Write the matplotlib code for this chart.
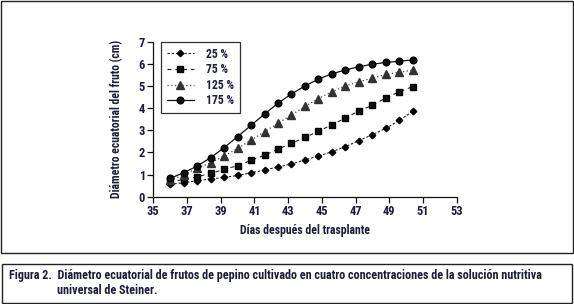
import matplotlib
matplotlib.use("Agg")
import matplotlib.pyplot as plt
from matplotlib import font_manager
from matplotlib.patches import Rectangle

# ---- data ----
dias = [36.0, 36.8, 37.6, 38.4, 39.2, 40.0, 40.8, 41.6, 42.4, 43.2,
        44.0, 44.8, 45.6, 46.4, 47.2, 48.0, 48.8, 49.6, 50.4]
c25 = [0.56, 0.63, 0.72, 0.80, 0.87, 0.96, 1.08, 1.20, 1.34, 1.48,
       1.66, 1.84, 2.03, 2.26, 2.53, 2.80, 3.09, 3.45, 3.85]
c75 = [0.65, 0.78, 0.90, 1.05, 1.23, 1.40, 1.64, 1.87, 2.15, 2.41,
       2.68, 2.95, 3.25, 3.55, 3.88, 4.12, 4.46, 4.74, 4.97]
c125 = [0.75, 0.98, 1.28, 1.53, 1.84, 2.18, 2.55, 2.93, 3.31, 3.69,
        4.08, 4.43, 4.74, 5.00, 5.19, 5.35, 5.52, 5.62, 5.72]
c175 = [0.83, 1.08, 1.38, 1.76, 2.21, 2.71, 3.22, 3.73, 4.22, 4.64,
        5.00, 5.31, 5.55, 5.72, 5.87, 5.98, 6.06, 6.12, 6.17]
labels = ["25 %", "75 %", "125 %", "175 %"]
xticks = [35, 37, 39, 41, 43, 45, 47, 49, 51, 53]
yticks = [0, 1, 2, 3, 4, 5, 6, 7]
xlabel = "Días después del trasplante"
ylabel = "Diámetro ecuatorial del fruto (cm)"
caption1 = "Figura 2.  Diámetro ecuatorial de frutos de pepino cultivado en cuatro concentraciones de la solución nutritiva"
caption2 = "universal de Steiner."

# ---- font: a condensed family that has a bold face ----
bold_fams = {}
for f in font_manager.fontManager.ttflist:
    w = f.weight if isinstance(f.weight, int) else (700 if f.weight == "bold" else 400)
    if f.style == "normal" and w >= 700:
        bold_fams.setdefault(f.name, []).append(w)
fam = "DejaVu Sans"
for cand in ["Roboto Condensed", "Archivo Narrow", "Barlow Semi Condensed",
             "Fira Sans Condensed", "PT Sans Narrow", "Asap Condensed",
             "Encode Sans Condensed", "Barlow Condensed"]:
    if cand in bold_fams:
        fam = cand
        break
plt.rcParams["font.family"] = [fam, "DejaVu Sans"]
txt = "#1c1c3c"

fig = plt.figure(figsize=(5.74, 3.04), dpi=100)
ax = fig.add_axes([0.267, 0.353, 0.5286, 0.510])

ax.plot(dias, c25, linestyle=(0, (2.2, 1.6)), color="#222222", lw=0.8,
        marker="D", ms=3.3, mfc="black", mec="black", label=labels[0])
ax.plot(dias, c75, linestyle=(0, (3.5, 3.5)), color="#222222", lw=0.8,
        marker="s", ms=4.7, mfc="#111111", mec="black", label=labels[1])
ax.plot(dias, c125, linestyle=(0, (1, 2)), color="#444444", lw=0.9,
        marker="^", ms=5.8, mfc="#333333", mec="#333333", label=labels[2])
ax.plot(dias, c175, linestyle="-", color="#111111", lw=0.9,
        marker="o", ms=4.8, mfc="#111111", mec="black", label=labels[3])

ax.set_xlim(35, 53)
ax.set_ylim(0, 7)
ax.set_xticks(xticks)
ax.set_yticks(yticks)
for s in ["top", "right"]:
    ax.spines[s].set_visible(False)
for s in ["left", "bottom"]:
    ax.spines[s].set_linewidth(0.9)
    ax.spines[s].set_color("#111111")
ax.tick_params(direction="out", length=4, width=0.9, color="#111111",
               labelsize=9, labelcolor=txt, pad=2)
for lab in ax.get_xticklabels() + ax.get_yticklabels():
    lab.set_fontweight("bold")

xl = ax.set_xlabel(xlabel, fontsize=9, fontweight="bold", color=txt, labelpad=4)
yl = ax.set_ylabel(ylabel, fontsize=9, fontweight="bold", color=txt, labelpad=11)

leg = ax.legend(loc="upper left", bbox_to_anchor=(0.025, 1.0), borderaxespad=0,
                frameon=True, fancybox=False, edgecolor="black",
                fontsize=8.5, handlelength=2.3, handletextpad=1.0,
                labelspacing=0.22, borderpad=0.5, handleheight=0.7)
leg.get_frame().set_linewidth(0.9)
for t in leg.get_texts():
    t.set_color(txt)
    t.set_fontweight("bold")

# outer boxes
fig.patches.append(Rectangle((0.5 / 574, 1 - 252.5 / 304), 572.5 / 574, 252 / 304,
                             transform=fig.transFigure, fill=False,
                             edgecolor="#222222", lw=1.0))
fig.patches.append(Rectangle((1.5 / 574, 1 - 303 / 304), 570.5 / 574, 39 / 304,
                             transform=fig.transFigure, fill=False,
                             edgecolor="#222222", lw=1.0))

t1 = fig.text(9 / 574, 1 - 276 / 304, caption1, fontsize=8.5, fontweight="bold",
              color=txt, va="center", ha="left")
t2 = fig.text(57 / 574, 1 - 291 / 304, caption2, fontsize=8.5, fontweight="bold",
              color=txt, va="center", ha="left")

# fit text widths to the reference
fig.canvas.draw()
r = fig.canvas.get_renderer()
w = t1.get_window_extent(r).width
fs = 8.5 * 532.0 / w
t1.set_fontsize(fs)
t2.set_fontsize(fs)
w2 = xl.get_window_extent(r).width
xl.set_fontsize(9 * 130.0 / w2)
h2 = yl.get_window_extent(r).height
yl.set_fontsize(9 * 159.0 / h2)

fig.savefig("out.png", dpi=100)
